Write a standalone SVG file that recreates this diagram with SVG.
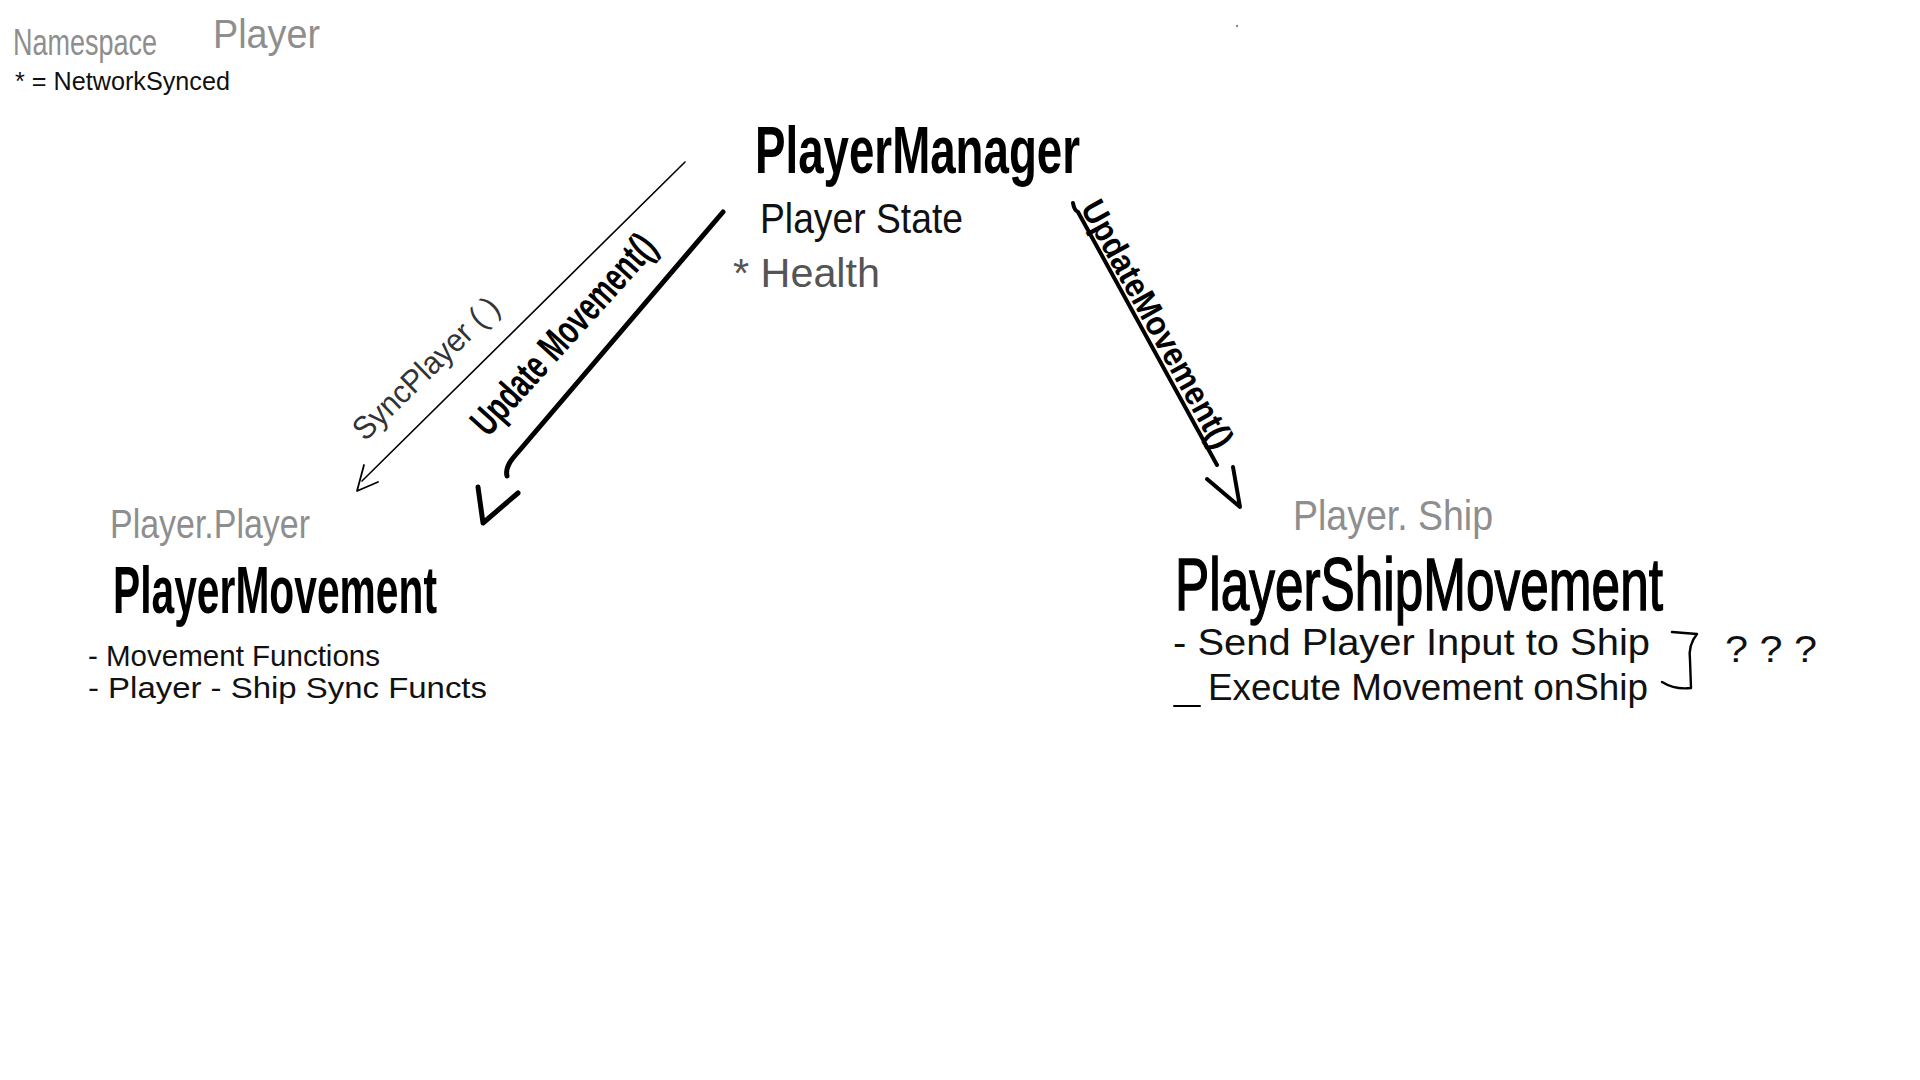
<svg xmlns="http://www.w3.org/2000/svg" width="1920" height="1080" viewBox="0 0 1920 1080">
<style>
text{font-family:"Liberation Sans","DejaVu Sans",sans-serif}
.gray{fill:#8e8e8e}
.title{font-weight:bold;fill:#000}
.sub{fill:#111}
.conn{fill:none;stroke:#000;stroke-linecap:round;stroke-linejoin:round}
</style>
<rect width="1920" height="1080" fill="#fff"/>
<g id="legend">
<text class="gray" x="13" y="55" font-size="36" textLength="144" lengthAdjust="spacingAndGlyphs">Namespace</text>
<text class="gray" x="213" y="48" font-size="40" textLength="107" lengthAdjust="spacingAndGlyphs">Player</text>
<text class="sub" x="15" y="90" font-size="26" textLength="215" lengthAdjust="spacingAndGlyphs">* = NetworkSynced</text>
<circle cx="1237" cy="26" r="1.2" fill="#888"/>
</g>
<g id="connectors">
<path class="conn" d="M685,162 L362,481" stroke="#333" stroke-width="1.6"/>
<path class="conn" d="M364,465 L357,491 L378,482" stroke="#333" stroke-width="1.8"/>
<text x="365" y="442" font-size="32" fill="#333" transform="rotate(-44 365 442)" textLength="190" lengthAdjust="spacingAndGlyphs">SyncPlayer ( )</text>
<path class="conn" d="M723,212 L513,458 Q505,468 507,476" stroke-width="5"/>
<path class="conn" d="M478,487 L483,523 L518,493" stroke-width="5"/>
<text class="title" x="488" y="438" font-size="40" transform="rotate(-48 488 438)" textLength="255" lengthAdjust="spacingAndGlyphs">Update Movement()</text>
<path class="conn" d="M1073,203 Q1074,210 1078,212 L1217,465" stroke-width="4"/>
<path class="conn" d="M1207,479 L1240,507 L1233,467" stroke-width="4"/>
<text class="title" x="1080" y="208" font-size="34" transform="rotate(61 1080 208)" textLength="278" lengthAdjust="spacingAndGlyphs">UpdateMovement()</text>
</g>
<g id="PlayerManager">
<text class="title" x="755" y="173" font-size="66" textLength="325" lengthAdjust="spacingAndGlyphs">PlayerManager</text>
<text class="sub" x="760" y="233" font-size="42" textLength="203" lengthAdjust="spacingAndGlyphs">Player State</text>
<text x="733" y="287" font-size="40" fill="#555" textLength="147" lengthAdjust="spacingAndGlyphs">* Health</text>
</g>
<g id="PlayerMovement">
<text class="gray" x="110" y="538" font-size="40" textLength="200" lengthAdjust="spacingAndGlyphs">Player.Player</text>
<text class="title" x="113" y="613" font-size="66" textLength="324" lengthAdjust="spacingAndGlyphs">PlayerMovement</text>
<text class="sub" x="88" y="666" font-size="30" textLength="292" lengthAdjust="spacingAndGlyphs">- Movement  Functions</text>
<text class="sub" x="88" y="698" font-size="30" textLength="399" lengthAdjust="spacingAndGlyphs">- Player - Ship  Sync  Functs</text>
</g>
<g id="PlayerShipMovement">
<text class="gray" x="1293" y="530" font-size="42" textLength="200" lengthAdjust="spacingAndGlyphs">Player. Ship</text>
<text x="1175" y="610" font-size="74" fill="#000" stroke="#000" stroke-width="1.5" textLength="488" lengthAdjust="spacingAndGlyphs">PlayerShipMovement</text>
<text class="sub" x="1173" y="655" font-size="36" textLength="477" lengthAdjust="spacingAndGlyphs">- Send Player  Input to  Ship</text>
<path class="conn" d="M1174,706 L1200,706" stroke-width="2"/>
<text class="sub" x="1208" y="700" font-size="36" textLength="440" lengthAdjust="spacingAndGlyphs">Execute  Movement  onShip</text>
<path class="conn" d="M1672,632 L1697,634 Q1688,645 1690,660 L1691,688 Q1675,690 1662,682" stroke-width="2.4"/>
<text class="sub" x="1725" y="662" font-size="36" textLength="92" lengthAdjust="spacingAndGlyphs">? ? ?</text>
</g>
</svg>
